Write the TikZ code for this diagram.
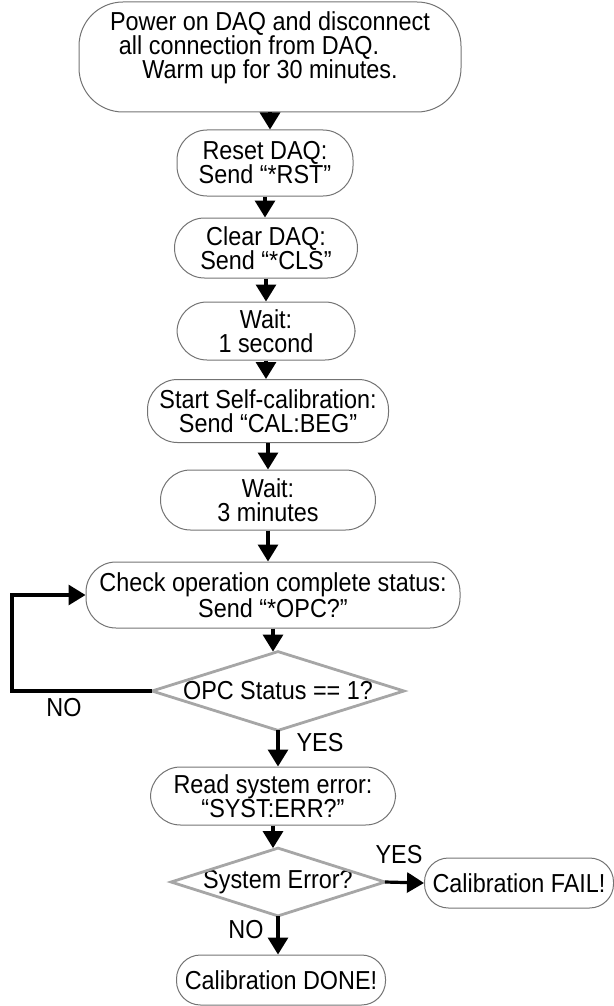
\documentclass[tikz,border=0pt]{standalone}
\usepackage{fontspec}
\setmainfont{Liberation Sans}[FakeStretch=0.9]
\usetikzlibrary{arrows.meta}
\usetikzlibrary{positioning}

\tikzset{
  stepbox/.style={draw=black!55, line width=0.5pt, rounded corners=15pt,
    align=center, inner sep=0pt},
  decision/.style={inner sep=0pt, align=center},
  flow/.style={line width=1.6pt, -{Triangle[length=8.5pt,width=10pt]}},
  lbl/.style={inner sep=0pt}
}

\begin{document}
\begin{tikzpicture}[x=0.5pt, y=-0.5pt, font=\fontsize{13}{12}\selectfont]
			\useasboundingbox (0,0) rectangle (614,1006);

			% main column
			\node[stepbox, rounded corners=22pt, minimum width=191pt, minimum height=55pt] (pwr) at (270,57)
				{Power on DAQ and disconnect\\all connection from DAQ.\hspace{21pt}\mbox{}\\Warm up for 30 minutes.\\\mbox{}};
			\node[stepbox, minimum width=88pt, minimum height=33pt] (rst) at (265,163)
				{Reset DAQ:\\Send “*RST”};
			\node[stepbox, minimum width=91.5pt, minimum height=30pt] (cls) at (266,248)
				{Clear DAQ:\\Send “*CLS”};
			\node[stepbox, minimum width=89pt, minimum height=29pt] (waitone) at (266,331)
				{Wait:\\1 second};
			\node[stepbox, minimum width=120.5pt, minimum height=31.5pt] (calbeg) at (268,411)
				{Start Self-calibration:\\Send “CAL:BEG”};
			\node[stepbox, minimum width=107.5pt, minimum height=30pt] (waitthree) at (268,500)
				{Wait:\\3 minutes};
			\node[stepbox, minimum width=187pt, minimum height=33pt] (opc) at (273,595)
				{Check operation complete status:\\Send “*OPC?”};

			% decision: OPC
			\node[decision, minimum width=125.5pt, minimum height=39pt] (opcq) at (278,691)
				{OPC Status == 1?};
			\draw[black!35, line width=1.4pt] (opcq.west) -- (opcq.north) -- (opcq.east) -- (opcq.south) -- cycle;

			\node[stepbox, minimum width=122.5pt, minimum height=29pt] (syserr) at (273,796)
				{Read system error:\\“SYST:ERR?”};

			% decision: error
			\node[decision, minimum width=106.5pt, minimum height=33.5pt] (errq) at (278,882)
				{System Error?};
			\draw[black!35, line width=1.4pt] (errq.west) -- (errq.north) -- (errq.east) -- (errq.south) -- cycle;

			\node[stepbox, rounded corners=12pt, minimum width=94.5pt, minimum height=25pt] (fail) at (519,883)
				{Calibration FAIL!};
			\node[stepbox, rounded corners=12pt, minimum width=104.5pt, minimum height=25pt] (done) at (281,980)
				{Calibration DONE!};

			% arrows
			\draw[flow] (pwr) -- (pwr |- rst.north);
			\draw[flow] (rst) -- (rst |- cls.north);
			\draw[flow] (cls) -- (cls |- waitone.north);
			\draw[flow] (waitone) -- (waitone |- calbeg.north);
			\draw[flow] (calbeg) -- (calbeg |- waitthree.north);
			\draw[flow] (waitthree) -- (waitthree |- opc.north);
			\draw[flow] (opc) -- (opc |- opcq.north);
			\draw[flow] (opcq.south) -- (opcq.south |- syserr.north);
			\draw[flow] (syserr) -- (syserr |- errq.north);
			\draw[flow] (errq.south) -- (errq.south |- done.north);
			\draw[flow] (errq.east) -- (fail.west);

			% loop back
			\coordinate (loopc) at (12,691);
			\draw[flow] (opcq.west) -- (loopc) |- (opc.west);

			% labels
			\node[lbl] (nofirst) at (64,708) {NO};
			\node[lbl] (yesfirst) at (320,743) {YES};
			\node[lbl] (yessecond) at (399,855) {YES};
			\node[lbl] (nosecond) at (246,930) {NO};
		\end{tikzpicture}
\end{document}
